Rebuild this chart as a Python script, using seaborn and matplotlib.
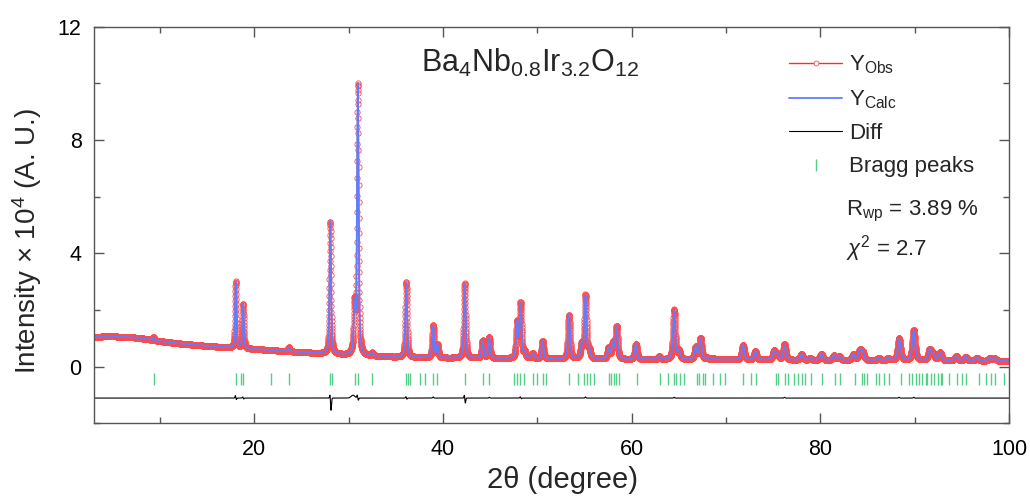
import numpy as np
import pandas as pd
import matplotlib
matplotlib.use("Agg")
import matplotlib.pyplot as plt
import seaborn as sns
from matplotlib.lines import Line2D
from matplotlib.ticker import MultipleLocator

# ---------------- data ----------------
# background knots (2theta, intensity /1e4)
bg_x = [3, 5, 7, 8.5, 10, 12, 15, 18, 21, 24, 27, 30, 35, 40, 50, 60, 70, 80, 90, 100]
bg_y = [1.06, 1.07, 1.04, 0.98, 0.90, 0.82, 0.73, 0.66, 0.60, 0.53, 0.47, 0.41, 0.34, 0.31, 0.28, 0.26, 0.25, 0.23, 0.22, 0.20]

# calculated peak positions and heights above background
peak_pos = [9.3, 18.02, 18.8, 23.65, 28.05, 30.62, 30.97, 32.5, 36.1, 38.95, 39.4,
            42.3, 44.2, 44.88, 47.85, 48.22, 48.65, 49.5, 50.55, 53.35, 54.7, 55.1,
            55.5, 57.55, 58.0, 58.4, 60.45, 62.9, 64.5, 65.0, 66.8, 67.3, 68.0, 68.6,
            71.8, 73.1, 75.1, 75.45, 76.2, 78.0, 78.9, 80.1, 81.45, 82.0, 83.5, 84.2,
            84.5, 86.2, 87.2, 88.35, 89.9, 91.6, 91.95, 92.7, 94.4, 95.4, 96.6, 98.0, 98.5]
peak_h = [0.10, 2.30, 1.55, 0.14, 4.70, 1.65, 9.55, 0.10, 2.62, 1.10, 0.45,
          2.62, 0.62, 0.72, 1.25, 1.90, 0.20, 0.17, 0.62, 1.55, 0.50, 2.20,
          0.30, 0.38, 0.55, 1.15, 0.55, 0.10, 1.72, 0.28, 0.45, 0.75, 0.05, 0.05,
          0.52, 0.30, 0.32, 0.20, 0.52, 0.20, 0.06, 0.22, 0.17, 0.13, 0.20, 0.35,
          0.25, 0.08, 0.07, 0.75, 1.05, 0.38, 0.22, 0.28, 0.16, 0.14, 0.11, 0.10, 0.08]

# difference curve features (position, amplitude /1e4)
diff_pos = [18.0, 18.06, 18.78, 18.84, 28.02, 28.12, 30.45, 30.92, 31.0, 36.08, 36.14,
            38.95, 42.28, 42.35, 44.9, 48.2, 48.26, 55.1, 64.5, 76.2, 88.35, 89.9]
diff_amp = [0.12, -0.09, 0.06, -0.05, 0.14, -0.45, 0.10, 0.12, -0.10, 0.07, -0.06,
            0.04, 0.15, -0.22, 0.03, 0.06, -0.04, 0.04, 0.03, 0.03, 0.03, 0.03]

# Bragg reflection positions
bragg = [9.32, 18.06, 18.55, 18.80, 21.73, 23.64, 28.03, 28.24, 30.68, 31.00, 32.48,
         36.09, 36.30, 36.54, 37.60, 38.06, 38.95, 39.37, 42.30, 44.25, 44.85,
         47.57, 47.86, 48.17, 48.56, 49.55, 49.98, 50.57, 50.93,
         53.40, 54.30, 54.92, 55.27, 55.55, 55.97, 57.64, 57.85, 58.10, 58.35, 58.62,
         60.57, 62.96, 63.85, 64.45, 64.73, 65.08, 65.50, 66.92, 67.16, 67.55, 67.80,
         68.64, 69.41, 69.84, 71.82, 72.60, 73.13, 75.25, 75.53, 76.30, 76.55, 77.19,
         77.61, 78.10, 78.35, 78.96, 80.20, 81.60, 82.13, 83.72,
         84.44, 84.68, 84.90, 85.85, 86.20, 86.73, 87.26, 88.50, 89.38, 89.74, 90.09,
         90.44, 90.80, 91.15, 91.33, 91.75, 92.10, 92.46, 92.74, 92.92, 93.62, 94.51,
         95.04, 95.39, 96.80, 97.51, 98.04, 98.57, 99.45]

title_text = r"Ba$_4$Nb$_{0.8}$Ir$_{3.2}$O$_{12}$"
rwp_text = r"R$_{\rm wp}$ = 3.89 %"
chi_text = r"$\chi^2$ = 2.7"
diff_offset = -1.11
bragg_level = -0.42

# ---------------- build the profile from the read values ----------------
tt = np.arange(3.0, 100.0001, 0.01)
bg = np.interp(tt, bg_x, bg_y)
calc = bg.copy()
for p, h in zip(peak_pos, peak_h):
    fw = 0.15 + 0.0025 * (p - 10)
    g = np.exp(-4 * np.log(2) * ((tt - p) / fw) ** 2)
    l = 1.0 / (1.0 + 4 * ((tt - p) / fw) ** 2)
    calc += h * (0.5 * g + 0.5 * l)
resid = np.zeros_like(tt)
for p, a in zip(diff_pos, diff_amp):
    w = 0.2 if p == 30.45 else 0.05
    resid += a * np.exp(-0.5 * ((tt - p) / w) ** 2)
obs = calc + resid
df = pd.DataFrame({"tt": tt, "obs": obs, "calc": calc, "diff": resid + diff_offset})
dfb = pd.DataFrame({"tt": bragg, "y": [bragg_level] * len(bragg)})

# ---------------- style ----------------
sns.set_theme(style="ticks")
plt.rcParams["font.family"] = ["Liberation Sans", "DejaVu Sans"]
plt.rcParams["mathtext.fontset"] = "custom"
plt.rcParams["mathtext.rm"] = "Liberation Sans"
plt.rcParams["mathtext.it"] = "Liberation Sans:italic"
plt.rcParams["mathtext.bf"] = "Liberation Sans:bold"

red = "#ff2a2a"
blue = "#5f7dff"
green = "#55cf88"

fig = plt.figure(figsize=(10.3, 4.96), dpi=100)
ax = fig.add_axes([0.0913, 0.1466, 0.9796 - 0.0913, 0.946 - 0.1466])

sns.lineplot(data=df, x="tt", y="obs", ax=ax, color=red, lw=1.0, estimator=None,
             sort=False, marker="o", markersize=3.8, markerfacecolor="none",
             markeredgecolor="#ff4a4a", markeredgewidth=0.6)
sns.lineplot(data=df, x="tt", y="calc", ax=ax, color=blue, lw=1.3, estimator=None, sort=False)
sns.lineplot(data=df, x="tt", y="diff", ax=ax, color="black", lw=0.8, estimator=None, sort=False)
sns.scatterplot(data=dfb, x="tt", y="y", ax=ax, marker="|", s=80, color=green, linewidth=1.0)

ax.set_xlim(3, 100)
ax.set_ylim(-2, 12)
ax.xaxis.set_major_locator(MultipleLocator(20))
ax.xaxis.set_minor_locator(MultipleLocator(10))
ax.yaxis.set_major_locator(MultipleLocator(4))
ax.yaxis.set_minor_locator(MultipleLocator(2))
ax.tick_params(which="both", direction="in", top=True, right=True, color="#555555",
               labelsize=15.5, labelcolor="black")
ax.tick_params(which="major", length=7, width=1)
ax.tick_params(which="minor", length=4.5, width=1)
ax.tick_params(axis="x", which="major", pad=11)
ax.tick_params(axis="y", which="major", pad=9)
for s in ax.spines.values():
    s.set_color("#555555")
    s.set_linewidth(1)

ax.set_xlabel("2θ (degree)", fontsize=21)
ax.set_ylabel(r"Intensity × 10$^4$ (A. U.)", fontsize=20)
ax.xaxis.set_label_coords(0.512, -0.108)
ax.yaxis.set_label_coords(-0.055, 0.46)

ax.text(0.4765, 0.91, title_text, transform=ax.transAxes, ha="center", va="center", fontsize=22)
ax.text(0.822, 0.535, rwp_text, transform=ax.transAxes, ha="left", va="center", fontsize=16)
ax.text(0.822, 0.44, chi_text, transform=ax.transAxes, ha="left", va="center", fontsize=16)

handles = [
    Line2D([], [], color=red, lw=1.0, marker="o", markersize=3.5, markerfacecolor="white",
           markeredgecolor="#ff4a4a", markeredgewidth=0.6),
    Line2D([], [], color=blue, lw=1.3),
    Line2D([], [], color="black", lw=0.8),
    Line2D([], [], color=green, lw=0, marker="|", markersize=9, markeredgewidth=1.0),
]
labels = [r"Y$_{\rm Obs}$", r"Y$_{\rm Calc}$", "Diff", "Bragg peaks"]
ax.legend(handles, labels, loc="upper left", bbox_to_anchor=(0.75, 0.955), frameon=False,
          fontsize=16, handlelength=2.4, handletextpad=0.3, labelspacing=0.55,
          numpoints=1, borderaxespad=0)

fig.savefig("out.png", dpi=100)
